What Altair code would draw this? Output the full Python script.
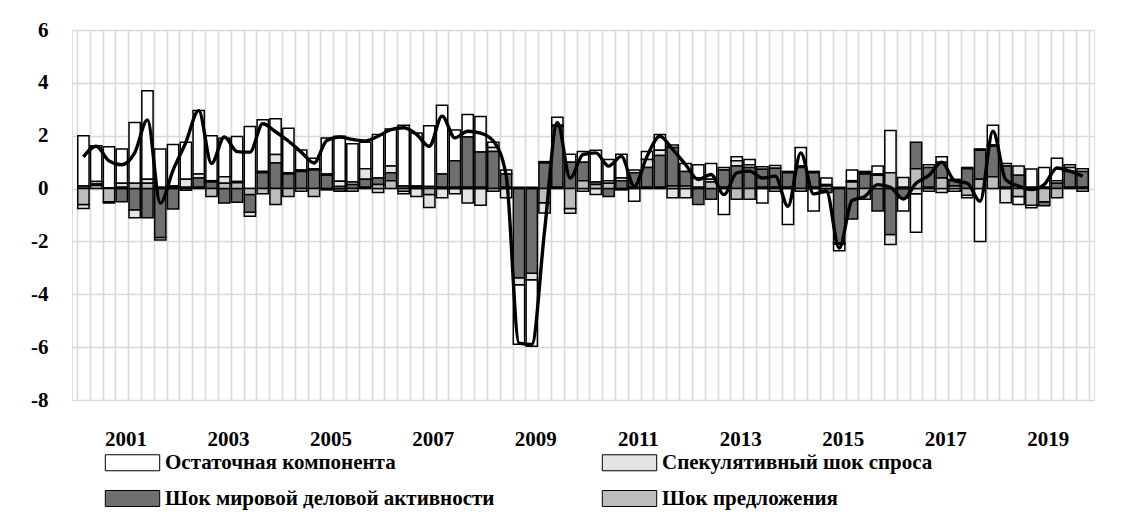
import altair as alt
import pandas as pd

# Quarters 2000Q2 .. 2019Q4 (79 quarters), index 0..78
quarter_idx = list(range(79))

residual = [1.9, 1.35, 1.55, 1.3, 2.3, 3.35, 1.45, 1.57, 1.4, 2.4,
            1.7, 1.45, 1.7, 2.35, 1.95, 1.35, 1.68, 0.76, 0.4, 1.36,
            1.7, 1.45, 1.0, 1.65, 1.4, 2.3, 2.0, 2.3, 2.6, 1.17,
            0.85, 1.35, 0.2, 0.15, -2.25, -2.52, 0.05, 0.3, 0.3, 0.4,
            1.2, 0.8, 0.9, -0.48, 0.3, 0.6, 0.1, 0.3, 0.5, 0.6,
            -0.98, 0.15, 0.2, -0.55, 0.1, -1.36, 0.7, -0.85, 0.25, -0.25,
            0.4, 0.05, 0.3, 1.6, -0.5, -1.45, 0.1, 0.2, 0.05, 0.05,
            -2.0, 0.75, 0.1, -0.3, 0.69, 0.75, 0.85, 0.1, 0.1]
speculative = [-0.15, 0.1, -0.05, 0.15, -0.3, 0.15, -0.1, 0.05, 0.3, 0.15,
               0.05, 0.25, 0.05, -0.15, 0.05, 0.32, 0.05, 0.05, 0.05, 0.05,
               0.2, 0.1, 0.4, -0.15, 0.25, -0.1, -0.3, -0.5, -0.35, -0.2,
               -0.55, -0.63, 0.15, -0.35, -0.27, -0.25, -0.38, 0.05, -0.18, -0.1,
               -0.22, 0.1, 0.1, 0.1, 0.3, 0.2, -0.35, -0.35, 0.35, 0.1,
               0.1, 0.2, 0.1, 0.1, -0.1, 0.05, 0.05, 0.05, 0.05, -0.05,
               0.05, 0.05, 0.05, -0.38, 0.37, -0.2, -0.1, -0.15, -0.1, -0.1,
               0.05, 0.05, -0.54, 0.35, -0.1, 0.05, 0.1, 0.15, -0.1]
world = [0.1, 0.05, 0.03, -0.5, -0.8, -1.1, -1.85, -0.77, 0.05, 0.35,
         0.25, -0.55, -0.52, -0.68, 0.6, 0.97, 0.55, 0.65, 0.7, 0.5,
         -0.1, 0.15, 0.3, 0.25, 0.3, 0.1, 0.05, 0.08, 0.5, 1.0,
         1.9, 1.33, 1.4, 0.5, -3.37, -3.2, 0.97, 2.3, 1.0, 0.7,
         0.1, -0.3, 0.3, 0.55, 0.75, 1.2, 1.45, 0.55, -0.6, -0.4,
         0.65, 0.85, 0.8, 0.68, 0.72, 0.55, 0.8, 0.55, -0.15, -2.05,
         -1.15, 0.55, -0.85, -1.74, -0.35, 1.0, 0.75, 0.6, 0.2, 0.75,
         1.1, 1.15, 0.8, 0.5, 0.05, -0.15, 0.2, 0.6, 0.6]
supply = [-0.6, 0.12, -0.5, 0.05, 0.2, 0.2, 0.05, 0.05, -0.06, 0.05,
          -0.3, 0.2, 0.22, -0.22, -0.2, -0.6, -0.3, -0.1, -0.3, -0.05,
          0.08, -0.1, 0.05, 0.15, 0.3, -0.1, 0.05, -0.22, 0.05, 0.05,
          0.05, 0.05, -0.1, 0.05, 0.05, 0.05, -0.54, 0.05, -0.75, 0.3,
          0.15, 0.2, -0.05, 0.05, 0.05, 0.05, 0.1, 0.1, 0.05, 0.25,
          0.05, -0.4, -0.4, 0.05, 0.05, 0.05, -0.1, 0.05, 0.1, 0.05,
          0.25, -0.4, 0.5, 0.6, 0.05, 0.75, 0.05, 0.4, 0.1, -0.25,
          0.35, 0.45, 0.05, -0.3, -0.63, -0.5, -0.35, 0.05, 0.05]
total = [1.2, 1.6, 1.05, 0.9, 1.35, 2.6, -0.55, 0.7, 1.75, 2.95,
         0.95, 1.95, 1.4, 1.38, 2.45, 2.15, 1.8, 1.38, 0.97, 1.82,
         1.95, 1.86, 1.8, 1.98, 2.23, 2.3, 2.05, 1.6, 2.74, 1.92,
         2.17, 2.1, 1.8, 0.5, -5.85, -5.9, -1.6, 2.5, 0.4, 1.29,
         1.35, 0.85, 1.22, 0.09, 1.22, 1.98, 1.48, 0.91, 0.34, 0.53,
         -0.23, 0.59, 0.66, 0.4, 0.47, -0.67, 1.35, -0.2, -0.1, -2.25,
         -0.45, -0.3, 0.15, 0.05, -0.4, 0.2, 0.5, 1.0, 0.3, 0.2,
         -0.48, 2.17, 0.34, 0.09, -0.04, 0.15, 0.78, 0.66, 0.47]

year_labels = ["2001", "2003", "2005", "2007", "2009",
               "2011", "2013", "2015", "2017", "2019"]
year_label_idx = [3, 11, 19, 27, 35, 43, 51, 59, 67, 75]

series_names = ["Остаточная компонента", "Спекулятивный шок спроса",
                "Шок мировой деловой активности", "Шок предложения"]
series_fill = ["#ffffff", "#e4e4e4", "#6f6f6f", "#bdbdbd"]
stack_rank = [3, 2, 1, 0]  # supply closest to zero, residual outermost

rows = []
for name, vals, rank in zip(series_names, [residual, speculative, world, supply], stack_rank):
    for q, v in zip(quarter_idx, vals):
        rows.append({"q": q, "series": name, "value": v, "rank": rank})
bars_df = pd.DataFrame(rows)
line_df = pd.DataFrame({"q": quarter_idx, "total": total})

FONT = "Liberation Serif"

label_expr = " : ".join(
    [f"datum.value == {i} ? '{lab}'" for i, lab in zip(year_label_idx, year_labels)]
) + " : ''"

x_scale = alt.Scale(domain=[0, 79], nice=False, zero=False)
y_scale = alt.Scale(domain=[-8, 6], nice=False)

x_axis = alt.Axis(
    values=list(range(0, 80)), title=None, grid=True, gridColor="#d9d9d9",
    gridWidth=1.6, domain=False, ticks=False, labelExpr=label_expr,
    labelOffset=10, labelFont=FONT, labelFontWeight="bold", labelFontSize=21,
    labelColor="#000000", labelPadding=28, labelOverlap=False, labelFlush=False,
)
y_axis = alt.Axis(
    values=[-8, -6, -4, -2, 0, 2, 4, 6], title=None, grid=True,
    gridColor="#d9d9d9", gridWidth=1.6, domain=False, ticks=False,
    labelExpr="'' + datum.value", labelFont=FONT, labelFontWeight="bold",
    labelFontSize=21, labelColor="#000000", labelPadding=24,
)

legend = alt.Legend(
    title=None, orient="none", legendX=50, legendY=422, direction="horizontal",
    columns=2, labelFont=FONT, labelFontWeight="bold", labelFontSize=21,
    labelColor="#000000", symbolType="M-3.4,-1L3.4,-1L3.4,1L-3.4,1Z",
    symbolSize=256, symbolStrokeColor="#000000", symbolStrokeWidth=1,
    labelOffset=22, columnPadding=105, rowPadding=14, labelLimit=500,
    symbolOpacity=1, gridAlign="all",
)

bars = alt.Chart(bars_df).transform_filter("datum.value != 0").transform_calculate(
    x0="datum.q + 0.06", x1="datum.q + 0.94"
).mark_bar(stroke="#000000", strokeWidth=1.5).encode(
    x=alt.X("x0:Q", scale=x_scale, axis=x_axis),
    x2="x1:Q",
    y=alt.Y("sum(value):Q", stack="zero", scale=y_scale, axis=y_axis),
    color=alt.Color("series:N", scale=alt.Scale(domain=series_names, range=series_fill),
                    legend=legend),
    order=alt.Order("rank:Q", sort="ascending"),
)

line = alt.Chart(line_df).transform_calculate(xc="datum.q + 0.5").mark_line(
    color="#000000", strokeWidth=3.4, interpolate="monotone"
).encode(
    x=alt.X("xc:Q", scale=x_scale, axis=x_axis),
    y=alt.Y("total:Q", scale=y_scale, axis=y_axis),
)

chart = alt.layer(bars, line).properties(
    width=1022, height=370,
    autosize=alt.AutoSizeParams(type="none"),
    padding={"left": 64, "top": 22, "right": 34, "bottom": 113},
).configure_view(strokeWidth=0).configure(background="#ffffff")

chart.save("out.html", embed_options={"renderer": "svg", "actions": False})
